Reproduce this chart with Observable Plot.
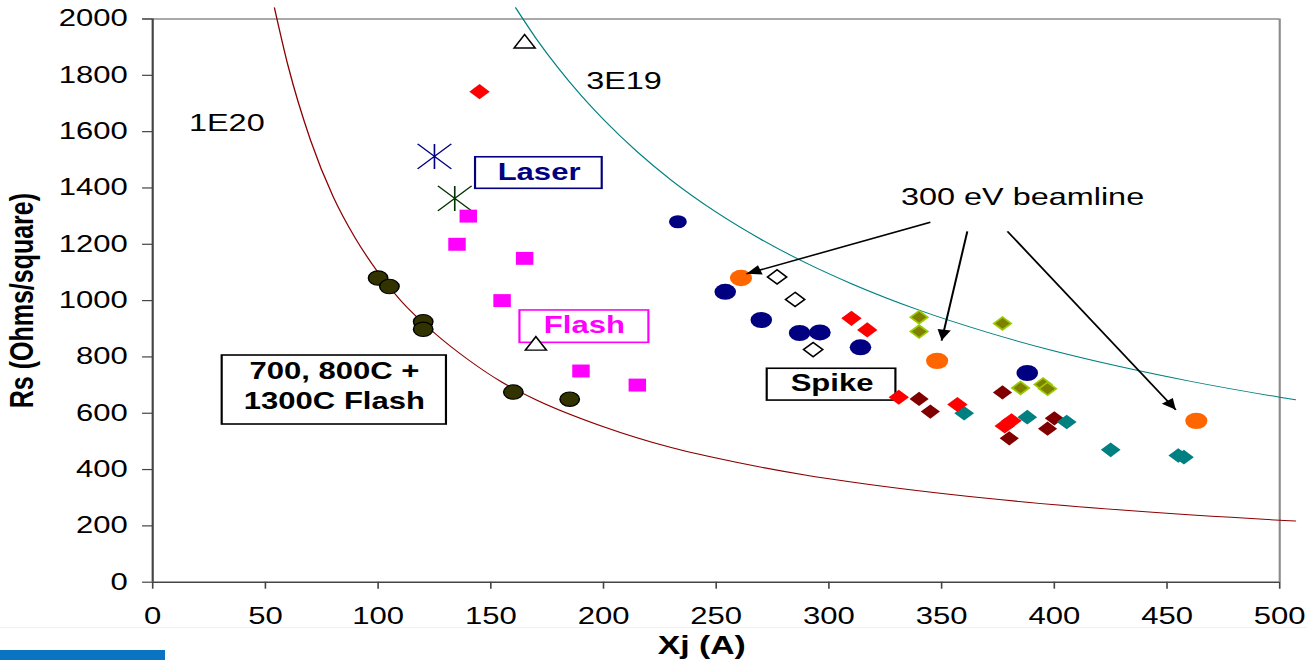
<!DOCTYPE html>
<html>
<head>
<meta charset="utf-8">
<script src="https://cdn.jsdelivr.net/npm/d3@7"></script>
<script src="https://cdn.jsdelivr.net/npm/@observablehq/plot@0.6"></script>
<style>
  html, body { margin: 0; padding: 0; background: #fff; }
  #wrap { position: relative; width: 1307px; height: 660px; overflow: hidden; }
  #wrap svg { position: absolute; left: 0; top: 0; }
  #footline { position: absolute; left: 0; top: 627px; width: 1307px; height: 1px; background: #f1f1f1; }
  #footbar { position: absolute; left: 0; top: 650px; width: 165px; height: 10px; background: #0a74c2; }
</style>
</head>
<body>
<div id="wrap"><div id="footline"></div><div id="footbar"></div></div>
<script>
// Axis ticks
const xTicks = [0, 50, 100, 150, 200, 250, 300, 350, 400, 450, 500];
const yTicks = [0, 200, 400, 600, 800, 1000, 1200, 1400, 1600, 1800, 2000];

// Junction depth Xj (Å) and sheet resistance Rs (Ω/sq) per process
const furnaceXj = [100, 105, 120, 120, 160, 185];          // 700, 800C + 1300C flash
const furnaceRs = [1080, 1050, 925, 898, 675, 650];
const laserAXj = [125];
const laserARs = [1512];
const laserBXj = [134];
const laserBRs = [1363];
const flashXj = [140, 135, 165, 155, 190, 215];
const flashRs = [1300, 1200, 1150, 1000, 750, 700];
const triangleXj = [165, 170];
const triangleRs = [1913, 840];
const navySmallXj = [233];
const navySmallRs = [1280];
const spikeNavyXj = [254, 270, 287, 296, 314, 388];
const spikeNavyRs = [1031, 931, 885, 887, 834, 743];
const beamlineXj = [261, 348, 463];                           // 300 eV beamline
const beamlineRs = [1080, 786, 573];
const openDiamondXj = [277, 285, 293];
const openDiamondRs = [1084, 1004, 826];
const redXj = [145, 310, 317, 331, 357, 378, 381];
const redRs = [1742, 937, 896, 657, 631, 555, 573];
const maroonXj = [340, 345, 377, 380, 397, 400];
const maroonRs = [651, 606, 674, 511, 545, 582];
const tealXj = [360, 388, 405.5, 425, 455, 457.5];
const tealRs = [600, 586, 569, 470, 450, 444];
const oliveXj = [340, 340, 377, 385, 395, 397];
const oliveRs = [941, 890, 919, 690, 702, 687];

// Constant-concentration reference curves
const curve1E20Xj = [54, 60, 70, 80, 90, 100, 110, 125, 140, 155, 170, 200, 230, 260, 290, 310, 370, 430, 500, 507];
const curve1E20Rs = [2040, 1835, 1570, 1370, 1220, 1100, 1000, 885, 790, 710, 648, 552, 478, 424, 380, 356, 298, 256, 220, 217];
const curve3E19Xj = [161, 170, 180, 190, 200, 215, 230, 250, 270, 290, 310, 340, 370, 400, 430, 460, 500, 507];
const curve3E19Rs = [2040, 1932, 1825, 1729, 1643, 1528, 1428, 1314, 1217, 1133, 1060, 966, 888, 821, 764, 714, 657, 648];

// Callouts: "300 eV beamline" arrows (start -> tip)
const arrowFromXj = [345, 361.4, 379.2];
const arrowFromRs = [1278, 1246, 1246];
const arrowToXj = [263.4, 350, 453.9];
const arrowToRs = [1095, 858, 612];

const rows = (xs, ys) => xs.map((x, i) => ({xj: x, rs: ys[i]}));

// Layout: drawn on a narrower canvas, then widened to the page
const W = 968, H = 660, PAGE_W = 1307;
const mL = 112.6, mR = 20.7, mT = 18.5, mB = 78.3;
const font = "Liberation Sans, Arial, Helvetica, sans-serif";

// Excel-style star marker: vertical bar plus an X
const star = {
  draw(ctx, size) {
    const r = Math.sqrt(size / Math.PI);
    ctx.moveTo(0, -r); ctx.lineTo(0, r);
    ctx.moveTo(-r, -r); ctx.lineTo(r, r);
    ctx.moveTo(-r, r); ctx.lineTo(r, -r);
  }
};
// Filled arrow head with its tip at the origin, pointing up
const head = {
  draw(ctx, size) {
    const r = Math.sqrt(size / Math.PI);
    ctx.moveTo(0, 0);
    ctx.lineTo(-0.45 * r, r);
    ctx.lineTo(0.45 * r, r);
    ctx.closePath();
  }
};

const kx = (W - mL - mR) / 500, ky = (H - mT - mB) / 2000;
const arrows = arrowFromXj.map((x, i) => {
  const dx = (arrowToXj[i] - x) * kx;
  const dy = -(arrowToRs[i] - arrowFromRs[i]) * ky;
  return {x1: x, y1: arrowFromRs[i], x2: arrowToXj[i], y2: arrowToRs[i],
          angle: Math.atan2(dy, dx) * 180 / Math.PI + 90};
});

const box = (x1, x2, y1, y2, color) =>
  Plot.rect([{x1, x2, y1, y2}], {x1: "x1", x2: "x2", y1: "y1", y2: "y2", fill: "white", stroke: color, strokeWidth: 1.6});

const chart = Plot.plot({
  width: W, height: H,
  marginLeft: mL, marginRight: mR, marginTop: mT, marginBottom: mB,
  style: {fontFamily: font, fontSize: "23px", color: "#000", background: "transparent", overflow: "visible"},
  x: {domain: [0, 500], label: null},
  y: {domain: [0, 2000], label: null},
  marks: [
    // frame: gray top/right edges, dark axes
    Plot.ruleY([2000], {x1: -4.4, x2: 500, stroke: "#8c8c8c", strokeWidth: 1.6}),
    Plot.ruleX([500], {y1: 0, y2: 2000, stroke: "#8c8c8c", strokeWidth: 1.6}),
    Plot.axisX({ticks: xTicks, tickFormat: d => String(d), tickSize: 7, tickPadding: 18, stroke: "#444", strokeWidth: 1.2, label: null}),
    Plot.axisY({ticks: yTicks, tickFormat: d => String(d), tickSize: 7.4, tickPadding: 11, stroke: "#444", strokeWidth: 1.2, label: null}),
    Plot.ruleX([0], {y1: 0, y2: 2000, stroke: "#444", strokeWidth: 1.6}),
    Plot.ruleY([0], {x1: 0, x2: 500, stroke: "#444", strokeWidth: 1.6}),

    // reference curves
    Plot.line(rows(curve1E20Xj, curve1E20Rs), {x: "xj", y: "rs", stroke: "#8b0000", strokeWidth: 1, curve: "monotone-x"}),
    Plot.line(rows(curve3E19Xj, curve3E19Rs), {x: "xj", y: "rs", stroke: "#008080", strokeWidth: 1, curve: "monotone-x"}),
    Plot.text(["1E20"], {x: () => 16.1, y: () => 1628, textAnchor: "start", fontSize: 24}),
    Plot.text(["3E19"], {x: () => 192.3, y: () => 1779, textAnchor: "start", fontSize: 24}),

    // label boxes
    box(143.3, 199.5, 1397, 1509, "#000080"),
    Plot.text(["Laser"], {x: () => 171.4, y: () => 1455, fill: "#000080", fontWeight: "bold", fontSize: 23}),
    box(163, 220.2, 850, 965, "#ff00ff"),
    Plot.text(["Flash"], {x: () => 191.5, y: () => 910, fill: "#ff00ff", fontWeight: "bold", fontSize: 23}),
    box(30.9, 130.4, 560, 805, "#000"),
    Plot.text(["700, 800C +", "1300C Flash"], {x: () => 80.6, y: (d, i) => [747, 641][i], fontWeight: "bold", fontSize: 23}),
    box(272.7, 329.8, 645, 758, "#000"),
    Plot.text(["Spike"], {x: () => 301.4, y: () => 705, fontWeight: "bold", fontSize: 23}),

    // data series
    Plot.dot(rows(furnaceXj, furnaceRs), {x: "xj", y: "rs", r: 7.2, fill: "#333300", stroke: "#000", strokeWidth: 1.1}),
    Plot.dot(rows(laserAXj, laserARs), {x: "xj", y: "rs", symbol: star, r: 12.5, fill: "none", stroke: "#000080", strokeWidth: 1.2}),
    Plot.dot(rows(laserBXj, laserBRs), {x: "xj", y: "rs", symbol: star, r: 12.5, fill: "none", stroke: "#003300", strokeWidth: 1.2}),
    Plot.dot(rows(flashXj, flashRs), {x: "xj", y: "rs", symbol: "square", r: 7.3, fill: "#ff00ff", stroke: "none"}),
    Plot.dot(rows(triangleXj, triangleRs), {x: "xj", y: "rs", symbol: "triangle", r: 5.8, fill: "white", stroke: "#000", strokeWidth: 1.3}),
    Plot.dot(rows(maroonXj, maroonRs), {x: "xj", y: "rs", symbol: "diamond2", r: 6.4, fill: "#800000", stroke: "none"}),
    Plot.dot(rows(tealXj, tealRs), {x: "xj", y: "rs", symbol: "diamond2", r: 6.6, fill: "#008080", stroke: "none"}),
    Plot.dot(rows(redXj, redRs), {x: "xj", y: "rs", symbol: "diamond2", r: 6.8, fill: "#ff0000", stroke: "none"}),
    Plot.dot(rows(oliveXj, oliveRs), {x: "xj", y: "rs", symbol: "diamond2", r: 5.8, fill: "#808000", stroke: "#99cc00", strokeWidth: 1.5}),
    Plot.dot(rows(openDiamondXj, openDiamondRs), {x: "xj", y: "rs", symbol: "diamond2", r: 6.4, fill: "white", stroke: "#000", strokeWidth: 1.4}),
    Plot.dot(rows(navySmallXj, navySmallRs), {x: "xj", y: "rs", r: 6.6, fill: "#000080", stroke: "none"}),
    Plot.dot(rows(spikeNavyXj, spikeNavyRs), {x: "xj", y: "rs", r: 8, fill: "#000080", stroke: "none"}),
    Plot.dot(rows(beamlineXj, beamlineRs), {x: "xj", y: "rs", r: 8.2, fill: "#ff6600", stroke: "none"}),

    // 300 eV beamline callout
    Plot.text(["300 eV beamline"], {x: () => 332, y: () => 1368, textAnchor: "start", fontSize: 24}),
    Plot.link(arrows, {x1: "x1", y1: "y1", x2: "x2", y2: "y2", stroke: "#000", strokeWidth: 1.5}),
    Plot.dot(arrows, {x: "x2", y: "y2", rotate: "angle", symbol: head, r: 11, fill: "#000", stroke: "none"}),

    // axis titles
    Plot.text(["Xj (A)"], {frameAnchor: "bottom", dx: -10.7, dy: 72, fontWeight: "bold", fontSize: 25}),
    Plot.text(["Rs (Ohms/square)"], {frameAnchor: "left", textAnchor: "middle", rotate: -90, dx: -96.3, fontWeight: "bold", fontSize: 25})
  ]
});

// widen the drawing to the page width
chart.setAttribute("width", PAGE_W);
chart.setAttribute("height", H);
chart.setAttribute("preserveAspectRatio", "none");
chart.style.width = PAGE_W + "px";
chart.style.height = H + "px";
chart.style.maxWidth = "none";
document.getElementById("wrap").prepend(chart);
</script>
</body>
</html>
